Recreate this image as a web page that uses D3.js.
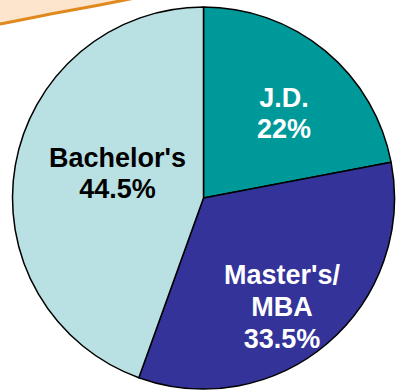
<!DOCTYPE html>
<html>
<head>
<meta charset="utf-8">
<script src="https://cdn.jsdelivr.net/npm/d3@7"></script>
<style>
  html, body { margin: 0; padding: 0; background: #ffffff; }
  svg { display: block; }
  text { font-family: "Liberation Sans", Arial, sans-serif; font-weight: bold; }
</style>
</head>
<body>
<svg id="chart" width="396" height="391"></svg>
<script>
// Degree mix
const categories = ["J.D.", "Master's/MBA", "Bachelor's"];
const shares = [22, 33.5, 44.5];
const labelLines = [["J.D.", "22%"], ["Master's/", "MBA", "33.5%"], ["Bachelor's", "44.5%"]];
const sliceColors = ["#009999", "#333399", "#b9e0e3"];
const labelColors = ["#ffffff", "#ffffff", "#000000"];

const cx = 203.5, cy = 198, R = 191;
const svg = d3.select("#chart");

// Decorative banner edge in the upper-left corner
const edgePts = [[140, -3], [100, 5], [50, 14], [-5, 25]];
const edge = d3.line().curve(d3.curveBasis);
svg.append("path")
  .attr("d", "M-5,-5 L145,-5 " + edge(edgePts).replace(/^M/, "L") + " Z")
  .attr("fill", "#fce5cc");
svg.append("path")
  .attr("d", edge(edgePts))
  .attr("fill", "none")
  .attr("stroke", "#e0891e")
  .attr("stroke-width", 3);

const pie = d3.pie().sort(null).value(d => d)(shares);
const arc = d3.arc().innerRadius(0).outerRadius(R);

const g = svg.append("g").attr("transform", `translate(${cx},${cy})`);
g.selectAll("path.slice")
  .data(pie)
  .join("path")
  .attr("class", "slice")
  .attr("d", arc)
  .attr("fill", (d, i) => sliceColors[i])
  .attr("stroke", "#000")
  .attr("stroke-width", 1.5)
  .attr("stroke-linejoin", "round");

// Label anchors (centre x, first baseline) relative to the pie centre
const labelAnchor = [[80.5, -91], [78.5, 86], [-86, -31]];
const lineHeight = [31, 32, 31];
pie.forEach((d, i) => {
  const [x, y] = labelAnchor[i];
  const t = g.append("text")
    .attr("text-anchor", "middle")
    .attr("fill", labelColors[i])
    .attr("font-size", 27);
  labelLines[i].forEach((s, k) => {
    t.append("tspan").attr("x", x).attr("y", y + k * lineHeight[i]).text(s);
  });
});
</script>
</body>
</html>
